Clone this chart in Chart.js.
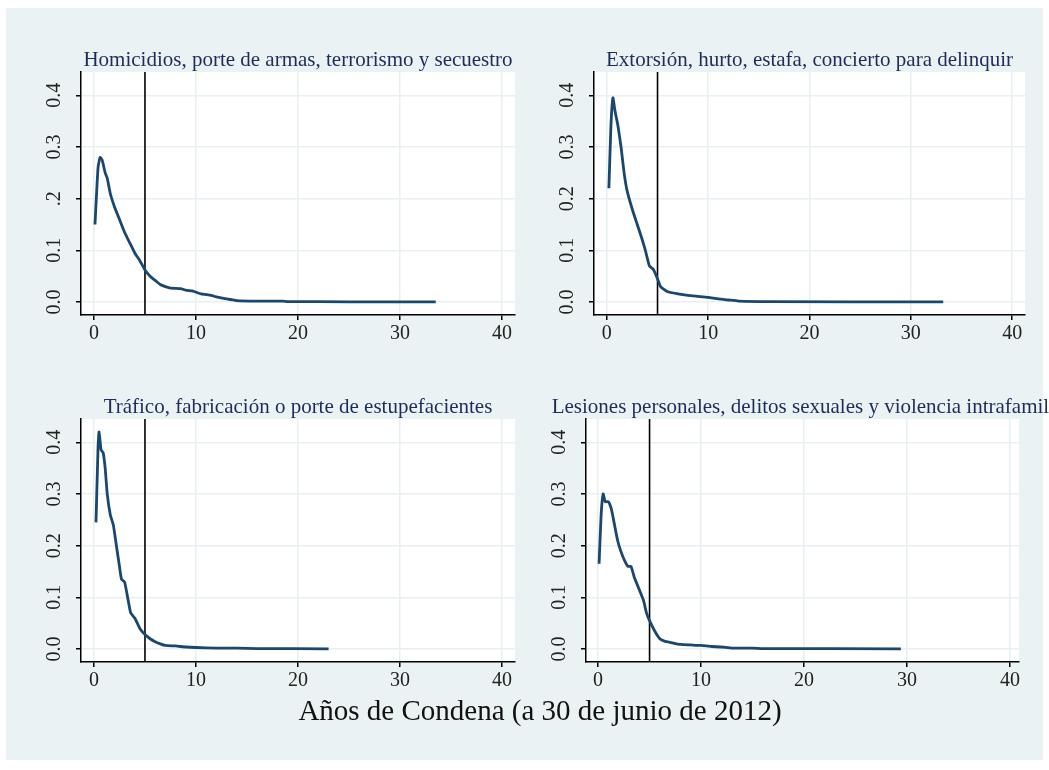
<!DOCTYPE html>
<html><head><meta charset="utf-8">
<script src="https://cdn.jsdelivr.net/npm/chart.js@4/dist/chart.umd.min.js"></script>
<style>
body{margin:0;background:#fff;width:1049px;height:770px;overflow:hidden;position:relative;font-family:"Liberation Serif",serif}
#bg{position:absolute;left:6px;top:8px;width:1037px;height:752px;background:#eaf2f3}
canvas{position:absolute}
#xl{position:absolute;left:0;width:1080px;top:694px;text-align:center;font-size:29px;color:#111}
</style></head><body>
<div id="bg"></div>
<canvas id="c1" style="left:30px;top:40px;width:500px;height:320px"></canvas>
<canvas id="c2" style="left:543px;top:40px;width:497px;height:320px"></canvas>
<canvas id="c3" style="left:30px;top:387px;width:500px;height:320px"></canvas>
<canvas id="c4" style="left:535px;top:387px;width:514px;height:320px"></canvas>
<div id="xl">Años de Condena (a 30 de junio de 2012)</div>
<script>
const titles = [
  "Homicidios, porte de armas, terrorismo y secuestro",
  "Extorsión, hurto, estafa, concierto para delinquir",
  "Tráfico, fabricación o porte de estupefacientes",
  "Lesiones personales, delitos sexuales y violencia intrafamiliar"
];
const xTicks = [0, 10, 20, 30, 40];
const yTicks = [0, 0.1, 0.2, 0.3, 0.4];
const yLabels1 = ["0.0", "0.1", ".2", "0.3", "0.4"];
const yLabels = ["0.0", "0.1", "0.2", "0.3", "0.4"];
const cutoff = 5;

const x1 = [0.1,0.4,0.6,0.8,1.1,1.3,1.6,2,2.5,3,3.5,4,4.5,5,5.5,6,6.5,7,7.5,8.5,9,9.7,10.5,11.5,12,13,14,16,18.5,19,25,33.5];
const y1 = [0.15,0.26,0.28,0.275,0.25,0.24,0.21,0.185,0.16,0.135,0.115,0.095,0.08,0.062,0.05,0.042,0.034,0.03,0.027,0.026,0.023,0.021,0.016,0.013,0.01,0.006,0.003,0.002,0.002,0.001,0.0005,0.0003];
const x2 = [0.2,0.4,0.6,0.8,1.1,1.4,1.7,2,2.5,3,3.5,3.8,4.2,4.6,5,5.3,6,7,8,9,10,11,12,13,16,33.2];
const y2 = [0.22,0.34,0.395,0.37,0.34,0.3,0.25,0.215,0.18,0.15,0.12,0.1,0.07,0.063,0.045,0.03,0.02,0.016,0.013,0.011,0.009,0.006,0.004,0.002,0.001,0.0002];
const x3 = [0.2,0.4,0.5,0.7,0.9,1.1,1.3,1.6,1.9,2.2,2.5,2.7,3,3.3,3.6,4,4.5,5,5.5,6,6.5,7,8,9,10,12,14,16,23];
const y3 = [0.245,0.39,0.42,0.385,0.38,0.35,0.3,0.26,0.24,0.2,0.16,0.135,0.13,0.1,0.07,0.06,0.04,0.028,0.02,0.014,0.01,0.007,0.006,0.004,0.003,0.002,0.002,0.001,0.0005];
const x4 = [0.1,0.3,0.5,0.7,1,1.3,1.6,1.9,2.2,2.6,2.9,3.2,3.5,4,4.4,4.7,5,5.5,6,6.5,7,8,9,10,11,12,13,15,16,29.4];
const y4 = [0.165,0.26,0.3,0.285,0.285,0.27,0.24,0.21,0.19,0.17,0.16,0.16,0.14,0.115,0.095,0.07,0.055,0.035,0.02,0.015,0.013,0.009,0.008,0.007,0.005,0.004,0.002,0.002,0.001,0.0005];

const yMin = -0.025, yMax = 0.445;
const panels = [
  {id:"c1", xs:x1, ys:y1, labels:yLabels1, xmin:-1.27, xmax:41.27, pr:15, tdx:0},
  {id:"c2", xs:x2, ys:y2, labels:yLabels, xmin:-1.27, xmax:41.27, pr:15, tdx:0},
  {id:"c3", xs:x3, ys:y3, labels:yLabels, xmin:-1.27, xmax:41.27, pr:15, tdx:0},
  {id:"c4", xs:x4, ys:y4, labels:yLabels, xmin:-1.17, xmax:40.87, pr:30, tdx:9}
];

const areaBg = {
  id: "areaBg",
  beforeDraw(chart) {
    const a = chart.chartArea, ctx = chart.ctx;
    ctx.save(); ctx.fillStyle = "#fff";
    ctx.fillRect(a.left, a.top, a.right - a.left, a.bottom - a.top);
    ctx.restore();
  }
};
// y labels rotated like Stata, and panel title centred over the plot area
const deco = {
  id: "deco",
  afterDraw(chart) {
    const s = chart.scales.y, a = chart.chartArea, ctx = chart.ctx, o = chart.options.plugins.deco;
    ctx.save();
    ctx.textAlign = "center"; ctx.textBaseline = "middle";
    ctx.font = '21px "Liberation Serif"'; ctx.fillStyle = "#1c2c5c";
    ctx.fillText(o.title, (a.left + a.right) / 2 + o.dx, 20);
    ctx.font = '20px "Liberation Serif"'; ctx.fillStyle = "#222";
    yTicks.forEach((v, i) => {
      ctx.save();
      ctx.translate(s.right - 26, s.getPixelForValue(v));
      ctx.rotate(-Math.PI / 2);
      ctx.fillText(o.labels[i], 0, 0);
      ctx.restore();
    });
    ctx.restore();
  }
};

panels.forEach((p, i) => {
  new Chart(document.getElementById(p.id), {
    type: "line",
    data: {
      datasets: [
        {data: p.xs.map((x, k) => ({x, y: p.ys[k]})), borderColor: "#1a476f", borderWidth: 2.8, pointRadius: 0, tension: 0.15},
        {data: [{x: cutoff, y: yMin}, {x: cutoff, y: yMax}], borderColor: "#000", borderWidth: 1.6, pointRadius: 0}
      ]
    },
    plugins: [areaBg, deco],
    options: {
      responsive: false, animation: false,
      layout: {padding: {right: p.pr, left: 0, top: 32}},
      plugins: {
        legend: {display: false}, tooltip: {enabled: false},
        deco: {labels: p.labels, title: titles[i], dx: p.tdx}
      },
      scales: {
        x: {
          type: "linear", min: p.xmin, max: p.xmax,
          afterBuildTicks: s => { s.ticks = xTicks.map(v => ({value: v})); },
          afterFit: s => { s.height = 45; },
          ticks: {color: "#222", font: {family: "Liberation Serif", size: 20}, padding: 2, maxRotation: 0},
          grid: {color: "#e8eff3", lineWidth: 1.5, tickColor: "#000", tickLength: 5},
          border: {color: "#000", width: 1.5}
        },
        y: {
          type: "linear", min: yMin, max: yMax,
          afterBuildTicks: s => { s.ticks = yTicks.map(v => ({value: v})); },
          afterFit: s => { s.width = 51; },
          ticks: {color: "rgba(0,0,0,0)"},
          grid: {color: "#e8eff3", lineWidth: 1.5, tickColor: "#000", tickLength: 5},
          border: {color: "#000", width: 1.5}
        }
      }
    }
  });
});
</script>
</body></html>
